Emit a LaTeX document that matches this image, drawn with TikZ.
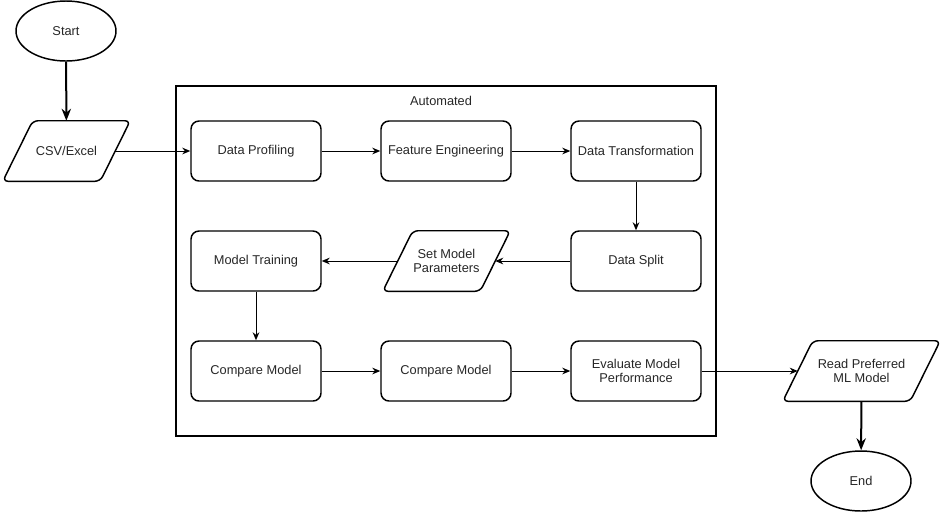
\documentclass[tikz,border=0pt]{standalone}
\usepackage{fontspec}
\setmainfont{Liberation Sans}
\usetikzlibrary{shapes.geometric,arrows.meta}

\begin{document}
\begin{tikzpicture}[x=0.75pt,y=-0.75pt,
    every node/.style={font=\fontsize{9.6}{11}\selectfont, text=black!85},
    process/.style={draw, line width=1.1pt, rounded corners=6pt, minimum width=97.5pt, minimum height=45pt, align=center},
    terminal/.style={draw, ellipse, line width=1.1pt, minimum width=75pt, minimum height=45pt},
    io/.style={minimum width=72.75pt, minimum height=45pt, align=center},
    iobox/.style={line width=1.1pt, rounded corners=4pt},
    group/.style={draw, line width=1.1pt, minimum width=405pt, minimum height=262.5pt},
    flow/.style={-{Stealth[length=6pt,width=5pt]}, line width=0.75pt},
    bigflow/.style={-{Stealth[length=9pt,width=7pt]}, line width=1.5pt}]
      \useasboundingbox (0,0) rectangle (942,512);
      \node[group] (auto) at (446,261) {};
      \node (autolabel) at (441,101) {Automated};
      \node[terminal] (start) at (66,31) {Start};
      \node[io] (csv) at (66.5,151) {CSV/Excel};
      \node[process] (profiling) at (256,151) {Data Profiling};
      \node[process] (features) at (446,151) {Feature Engineering};
      \node[process] (transform) at (636,151) {Data Transformation};
      \node[process] (split) at (636,261) {Data Split};
      \node[io] (params) at (446.5,261) {Set Model\\Parameters};
      \node[process] (training) at (256,261) {Model Training};
      \node[process] (compareA) at (256,371) {Compare Model};
      \node[process] (compareB) at (446,371) {Compare Model};
      \node[process] (evaluate) at (636,371) {Evaluate Model\\Performance};
      \node[io, minimum width=95.25pt] (read) at (861.5,371) {Read Preferred\\ML Model};
      \node[terminal] (end) at (861,481) {End};
      \foreach \n in {csv,params,read}
        \draw[iobox] ([xshift=-11.25pt]\n.south west) -- ([xshift=11.25pt]\n.north west)
          -- ([xshift=11.25pt]\n.north east) -- ([xshift=-11.25pt]\n.south east) -- cycle;
      \draw[bigflow] (start) -- (csv);
      \draw[flow] (csv) -- (profiling);
      \draw[flow] (profiling) -- (features);
      \draw[flow] (features) -- (transform);
      \draw[flow] (transform) -- (split);
      \draw[flow] (split) -- (params);
      \draw[flow] (params) -- (training);
      \draw[flow] (training) -- (compareA);
      \draw[flow] (compareA) -- (compareB);
      \draw[flow] (compareB) -- (evaluate);
      \draw[flow] (evaluate) -- (read);
      \draw[bigflow] (read) -- (end);
\end{tikzpicture}
\end{document}
